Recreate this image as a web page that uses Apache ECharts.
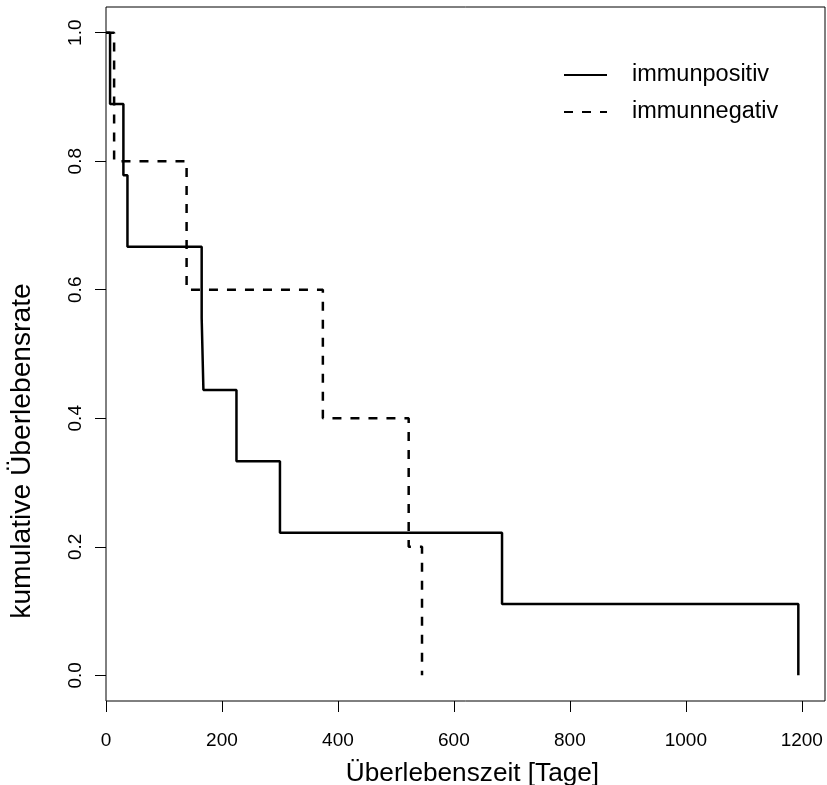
<!DOCTYPE html>
<html><head><meta charset="utf-8">
<script src="https://cdn.jsdelivr.net/npm/echarts@6/dist/echarts.min.js"></script>
<style>html,body{margin:0;padding:0;background:#fff}#c{width:827px;height:785px}</style>
</head><body><div id="c"></div>
<script>
// Kaplan-Meier step data
const seriesNames = ['immunpositiv', 'immunnegativ'];
const timePositive = [0, 7, 30, 37, 165, 168, 225, 300, 683, 1194];
const survPositive = [1, 0.889, 0.778, 0.667, 0.556, 0.444, 0.333, 0.222, 0.111, 0];
const timeNegative = [0, 14, 139, 374, 522, 545];
const survNegative = [1, 0.8, 0.6, 0.4, 0.2, 0];
const xTicks = [0, 200, 400, 600, 800, 1000, 1200];
const yTicks = [0, 0.2, 0.4, 0.6, 0.8, 1.0];
const xTitle = 'Überlebenszeit [Tage]';
const yTitle = 'kumulative Überlebensrate';

const FONT = '"Liberation Sans", Arial, Helvetica, sans-serif';
const chart = echarts.init(document.getElementById('c'), null, {renderer: 'canvas'});
chart.setOption({
  animation: false,
  backgroundColor: '#fff',
  textStyle: {fontFamily: FONT, color: '#000'},
  grid: {left: 106, right: 2, top: 7, bottom: 84, show: true, borderColor: '#000', borderWidth: 1,
    backgroundColor: 'transparent', containLabel: false, outerBoundsMode: 'none'},
  xAxis: {
    type: 'value', min: 0, max: 1240,
    splitLine: {show: false},
    axisLine: {show: false, onZero: false},
    axisTick: {show: true, length: 11, customValues: xTicks, lineStyle: {color: '#000', width: 1}},
    axisLabel: {customValues: xTicks, margin: 30, fontSize: 19, color: '#000', fontFamily: FONT,
      formatter: v => String(v)},
    name: xTitle, nameLocation: 'middle', nameGap: 60,
    nameTextStyle: {fontSize: 26.2, color: '#000', fontFamily: FONT, padding: [0, 0, 0, 14]}
  },
  yAxis: {
    type: 'value', min: -0.04, max: 1.04,
    splitLine: {show: false},
    axisLine: {show: false, onZero: false},
    axisTick: {show: true, length: 11, customValues: yTicks, lineStyle: {color: '#000', width: 1}},
    axisLabel: {customValues: yTicks, rotate: 90, margin: 21, fontSize: 19, color: '#000', fontFamily: FONT,
      formatter: v => Number(v).toFixed(1)}
  },
  legend: {
    orient: 'vertical', left: 563, top: 63, padding: 0,
    itemWidth: 43, itemHeight: 24, itemGap: 13,
    data: seriesNames,
    itemStyle: {opacity: 0},
    textStyle: {fontSize: 23.5, color: '#000', fontFamily: FONT, padding: [0, 0, 0, 20]}
  },
  graphic: [{
    type: 'text', x: 22.5, y: 451, rotation: Math.PI / 2,
    style: {text: yTitle, font: '28.2px ' + FONT, fill: '#000', align: 'center', verticalAlign: 'middle'}
  }],
  series: [
    {
      name: seriesNames[0], type: 'line', step: 'end', symbol: 'none',
      data: timePositive.map((t, i) => [t, survPositive[i]]),
      lineStyle: {color: '#000', width: 2.5, type: 'solid'}, itemStyle: {color: '#000'}
    },
    {
      name: seriesNames[1], type: 'line', step: 'end', symbol: 'none',
      data: timeNegative.map((t, i) => [t, survNegative[i]]),
      lineStyle: {color: '#000', width: 2.5, type: [9, 9]}, itemStyle: {color: '#000'}
    }
  ]
});
</script></body></html>
